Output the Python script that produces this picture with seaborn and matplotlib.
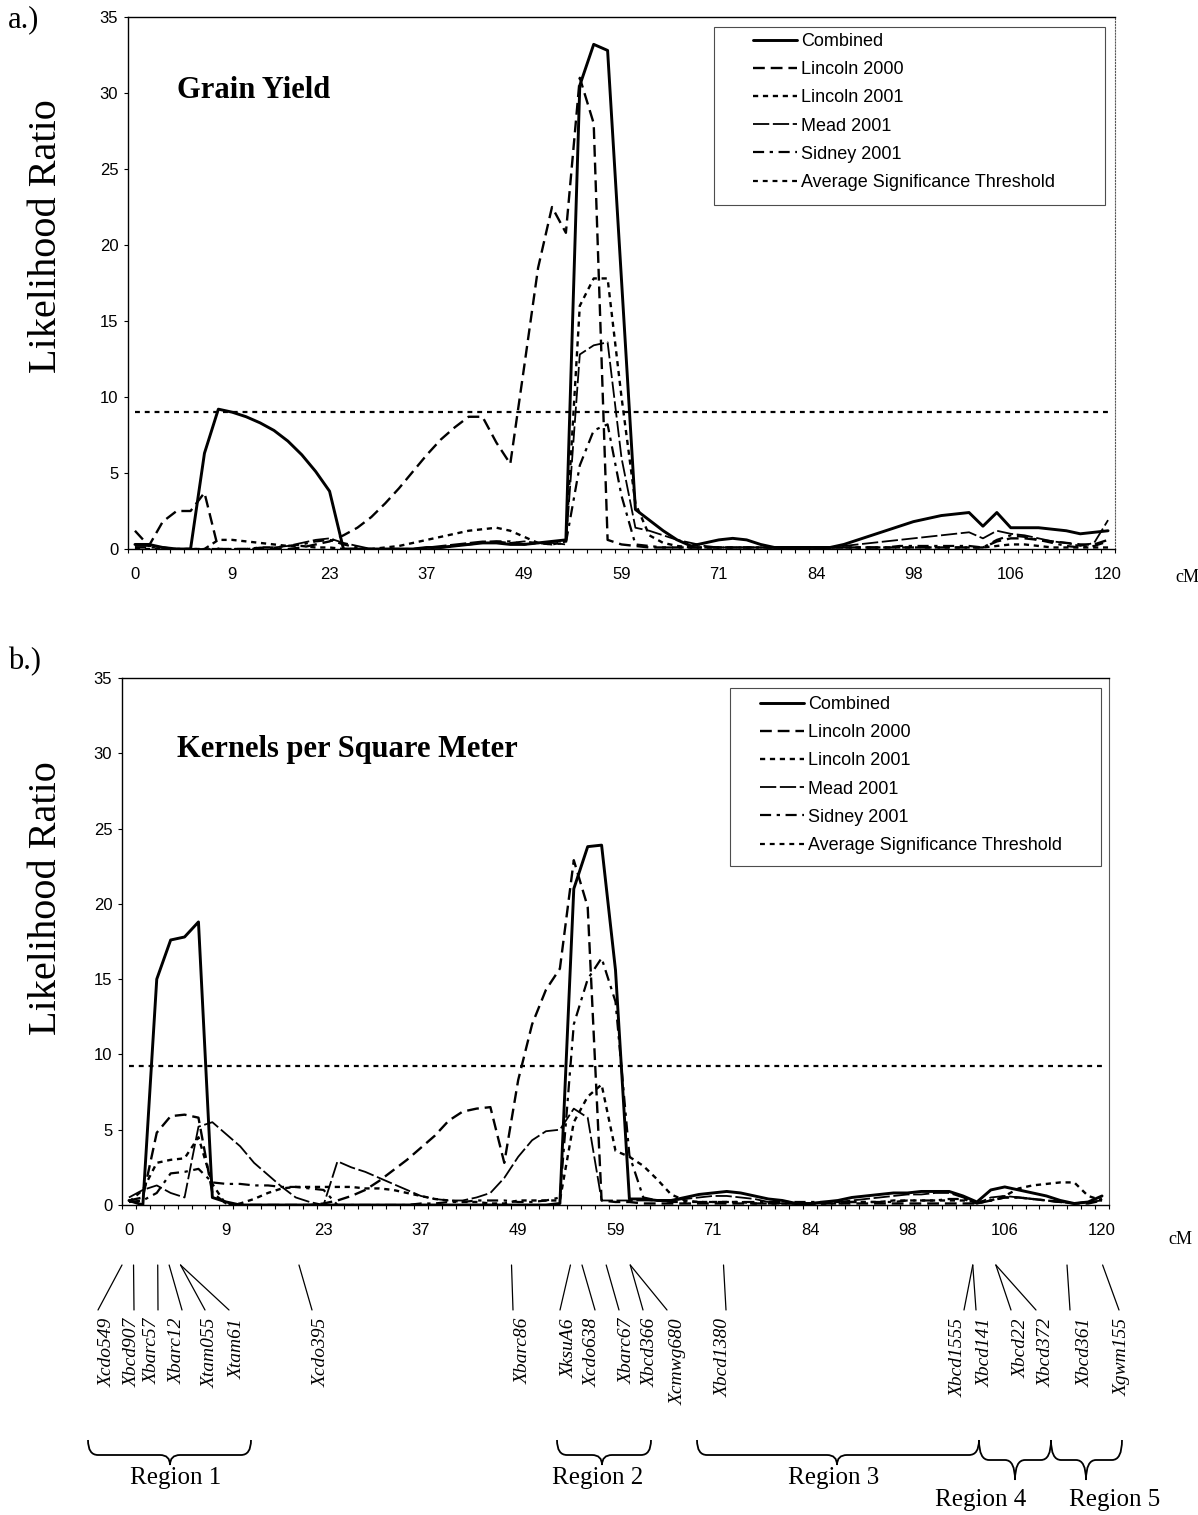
import numpy as np
import pandas as pd
import matplotlib
matplotlib.use("Agg")
import matplotlib.pyplot as plt
import seaborn as sns
from matplotlib.path import Path
from matplotlib.patches import PathPatch, Rectangle

sns.set_theme(style="ticks")
plt.rcParams['font.family'] = ['Liberation Sans', 'DejaVu Sans']
plt.rcParams['text.color'] = 'black'
plt.rcParams['axes.labelcolor'] = 'black'
plt.rcParams['xtick.color'] = 'black'
plt.rcParams['ytick.color'] = 'black'
plt.rcParams['axes.edgecolor'] = 'black'

# ---------------- data ----------------
cm_tick_labels = ["0", "9", "23", "37", "49", "59", "71", "84", "98", "106", "120"]
n_categories = 71
series_names = ["Combined", "Lincoln 2000", "Lincoln 2001", "Mead 2001", "Sidney 2001"]

a_combined = [0.3, 0.3, 0.1, 0.0, 0.0, 6.3, 9.2, 9.0, 8.7, 8.3,
              7.8, 7.1, 6.2, 5.1, 3.8, 0.0, 0.0, 0.0, 0.0, 0.0,
              0.0, 0.1, 0.1, 0.2, 0.3, 0.4, 0.4, 0.3, 0.3, 0.4,
              0.5, 0.6, 30.5, 33.2, 32.8, 17.7, 2.6, 1.9, 1.2, 0.6,
              0.2, 0.4, 0.6, 0.7, 0.6, 0.3, 0.1, 0.1, 0.1, 0.1,
              0.1, 0.3, 0.6, 0.9, 1.2, 1.5, 1.8, 2.0, 2.2, 2.3,
              2.4, 1.5, 2.4, 1.4, 1.4, 1.4, 1.3, 1.2, 1.0, 1.1,
              1.2]
a_lincoln2000 = [1.2, 0.2, 1.8, 2.5, 2.5, 3.7, 0.0, 0.0, 0.0, 0.0,
                 0.0, 0.0, 0.1, 0.3, 0.5, 0.9, 1.4, 2.1, 3.0, 4.0,
                 5.1, 6.2, 7.2, 8.0, 8.7, 8.7, 7.0, 5.6, 12.0, 18.5,
                 22.5, 20.8, 31.0, 28.0, 0.6, 0.3, 0.2, 0.1, 0.1, 0.1,
                 0.1, 0.1, 0.1, 0.1, 0.1, 0.1, 0.1, 0.1, 0.1, 0.1,
                 0.1, 0.1, 0.1, 0.1, 0.1, 0.1, 0.1, 0.1, 0.1, 0.1,
                 0.1, 0.1, 0.5, 0.7, 0.7, 0.6, 0.5, 0.4, 0.3, 0.3,
                 0.6]
a_lincoln2001 = [0.0, 0.0, 0.0, 0.0, 0.0, 0.0, 0.6, 0.6, 0.5, 0.4,
                 0.3, 0.2, 0.2, 0.1, 0.1, 0.0, 0.0, 0.0, 0.1, 0.2,
                 0.4, 0.6, 0.8, 1.0, 1.2, 1.3, 1.4, 1.2, 0.8, 0.4,
                 0.3, 0.5, 16.0, 17.8, 17.8, 10.0, 3.0, 0.9, 0.4, 0.2,
                 0.1, 0.1, 0.1, 0.1, 0.1, 0.1, 0.1, 0.1, 0.1, 0.1,
                 0.1, 0.1, 0.1, 0.1, 0.1, 0.1, 0.1, 0.1, 0.1, 0.1,
                 0.1, 0.1, 0.2, 0.3, 0.3, 0.2, 0.1, 0.1, 0.1, 0.1,
                 0.1]
a_mead2001 = [0.2, 0.2, 0.1, 0.0, 0.0, 0.0, 0.0, 0.0, 0.0, 0.1,
              0.1, 0.2, 0.4, 0.6, 0.7, 0.4, 0.2, 0.0, 0.0, 0.0,
              0.0, 0.1, 0.2, 0.3, 0.4, 0.5, 0.5, 0.4, 0.5, 0.4,
              0.4, 0.3, 12.8, 13.4, 13.6, 6.0, 1.4, 1.2, 0.9, 0.6,
              0.4, 0.2, 0.1, 0.1, 0.1, 0.1, 0.1, 0.1, 0.1, 0.1,
              0.1, 0.2, 0.3, 0.4, 0.5, 0.6, 0.7, 0.8, 0.9, 1.0,
              1.1, 0.7, 1.2, 1.0, 0.9, 0.7, 0.5, 0.4, 0.2, 0.4,
              1.9]
a_sidney2001 = [0.1, 0.1, 0.1, 0.0, 0.0, 0.0, 0.0, 0.0, 0.0, 0.1,
                0.1, 0.2, 0.3, 0.5, 0.6, 0.3, 0.1, 0.0, 0.0, 0.0,
                0.0, 0.0, 0.1, 0.2, 0.3, 0.4, 0.5, 0.5, 0.3, 0.4,
                0.3, 0.4, 5.5, 7.8, 8.2, 3.5, 0.3, 0.2, 0.1, 0.1,
                0.1, 0.1, 0.1, 0.1, 0.1, 0.1, 0.1, 0.1, 0.1, 0.1,
                0.1, 0.1, 0.1, 0.1, 0.1, 0.2, 0.2, 0.2, 0.2, 0.2,
                0.2, 0.1, 0.6, 0.9, 0.8, 0.6, 0.4, 0.2, 0.1, 0.2,
                0.5]
a_threshold = 9.0

b_combined = [0.3, 0.0, 15.0, 17.6, 17.8, 18.8, 0.5, 0.2, 0.0, 0.0,
              0.0, 0.0, 0.0, 0.0, 0.0, 0.0, 0.0, 0.0, 0.0, 0.0,
              0.0, 0.0, 0.0, 0.0, 0.0, 0.0, 0.0, 0.0, 0.0, 0.0,
              0.0, 0.1, 21.0, 23.8, 23.9, 15.6, 0.4, 0.4, 0.3, 0.3,
              0.5, 0.7, 0.8, 0.9, 0.8, 0.6, 0.4, 0.3, 0.1, 0.1,
              0.2, 0.3, 0.5, 0.6, 0.7, 0.8, 0.8, 0.9, 0.9, 0.9,
              0.6, 0.2, 1.0, 1.2, 1.0, 0.8, 0.6, 0.3, 0.1, 0.2,
              0.6]
b_lincoln2000 = [0.3, 0.5, 4.8, 5.9, 6.0, 5.8, 0.8, 0.1, 0.0, 0.0,
                 0.0, 0.0, 0.0, 0.0, 0.1, 0.3, 0.6, 1.0, 1.6, 2.3,
                 3.0, 3.8, 4.6, 5.6, 6.2, 6.4, 6.5, 2.8, 8.3, 12.0,
                 14.3, 15.7, 22.9, 19.8, 0.3, 0.2, 0.2, 0.1, 0.1, 0.1,
                 0.1, 0.1, 0.1, 0.1, 0.1, 0.1, 0.1, 0.1, 0.1, 0.1,
                 0.1, 0.1, 0.1, 0.1, 0.1, 0.1, 0.1, 0.1, 0.1, 0.1,
                 0.1, 0.1, 0.3, 0.5, 0.5, 0.4, 0.3, 0.2, 0.1, 0.1,
                 0.3]
b_lincoln2001 = [0.2, 1.0, 2.8, 3.0, 3.1, 4.5, 1.4, 0.0, 0.1, 0.4,
                 0.8, 1.1, 1.2, 1.2, 1.2, 1.2, 1.2, 1.1, 1.1, 1.0,
                 0.8, 0.6, 0.4, 0.3, 0.2, 0.2, 0.1, 0.1, 0.3, 0.3,
                 0.3, 0.3, 5.5, 7.2, 8.0, 3.6, 3.2, 2.6, 1.7, 0.7,
                 0.3, 0.2, 0.2, 0.2, 0.2, 0.1, 0.1, 0.1, 0.1, 0.1,
                 0.1, 0.1, 0.2, 0.2, 0.2, 0.3, 0.3, 0.3, 0.3, 0.3,
                 0.3, 0.2, 0.3, 0.6, 1.1, 1.3, 1.4, 1.5, 1.5, 0.6,
                 0.3]
b_mead2001 = [0.5, 1.0, 1.3, 0.8, 0.5, 5.2, 5.5, 4.7, 3.9, 2.8,
              2.0, 1.2, 0.5, 0.2, 0.0, 2.9, 2.5, 2.2, 1.8, 1.4,
              1.0, 0.6, 0.4, 0.3, 0.3, 0.5, 0.8, 1.8, 3.2, 4.3,
              4.9, 5.0, 6.4, 5.8, 0.3, 0.3, 0.3, 0.3, 0.3, 0.3,
              0.4, 0.5, 0.6, 0.6, 0.5, 0.4, 0.2, 0.1, 0.1, 0.1,
              0.1, 0.2, 0.3, 0.4, 0.5, 0.6, 0.7, 0.7, 0.8, 0.8,
              0.5, 0.1, 0.5, 0.6, 0.5, 0.4, 0.3, 0.2, 0.1, 0.2,
              0.3]
b_sidney2001 = [0.2, 0.3, 0.8, 2.1, 2.2, 2.4, 1.5, 1.4, 1.4, 1.3,
                1.3, 1.2, 1.2, 1.1, 1.0, 0.0, 0.0, 0.0, 0.0, 0.0,
                0.0, 0.1, 0.1, 0.2, 0.2, 0.3, 0.3, 0.3, 0.2, 0.2,
                0.3, 0.5, 12.0, 15.0, 16.4, 13.5, 3.3, 0.5, 0.3, 0.2,
                0.2, 0.2, 0.2, 0.2, 0.2, 0.2, 0.2, 0.2, 0.2, 0.2,
                0.2, 0.2, 0.2, 0.2, 0.2, 0.2, 0.3, 0.3, 0.3, 0.4,
                0.4, 0.1, 0.3, 0.5, 0.5, 0.4, 0.3, 0.2, 0.1, 0.2,
                0.4]
b_threshold = 9.25

# genetic map markers (position along panel b category axis)
marker_names = ["Xcdo549", "Xbcd907", "Xbarc57", "Xbarc12", "Xtam055", "Xtam61",
                "Xcdo395", "Xbarc86", "XksuA6", "Xcdo638", "Xbarc67", "Xbcd366",
                "Xcmwg680", "Xbcd1380", "Xbcd1555", "Xbcd141", "Xbcd22", "Xbcd372",
                "Xbcd361", "Xgwm155"]
marker_axis_pos = [-0.5, 0.33, 2.07, 2.89, 3.71, 3.71, 12.23, 27.52, 31.76, 32.59,
                   34.33, 36.06, 36.06, 42.77, 60.70, 60.70, 62.36, 62.36, 67.48, 70.04]
region_names = ["Region 1", "Region 2", "Region 3", "Region 4", "Region 5"]

# ---------------- layout (pixels) ----------------
W, H = 1198, 1515
marker_line_bottom_px = [98, 134, 158, 182, 205, 229, 312, 513, 560, 595,
                         619, 643, 667, 726, 964, 976, 1011, 1036, 1070, 1119]
marker_label_px = [107, 132, 152, 177, 210, 237, 321, 523, 569, 592,
                   627, 650, 678, 723, 958, 985, 1021, 1046, 1085, 1122]
brace_specs = [  # x0, x1, xtip, ytop, yline, ytip, text_x, text_y
    (88, 251, 170, 1440, 1455, 1465, 176, 1478),
    (557, 651, 602, 1440, 1455, 1465, 598, 1478),
    (697, 979, 837, 1440, 1455, 1465, 834, 1478),
    (979, 1051, 1015, 1440, 1460, 1480, 981, 1500),
    (1051, 1122, 1086, 1440, 1460, 1480, 1115, 1500),
]

styles = {
    "Combined": dict(lw=2.1, ls="-"),
    "Lincoln 2000": dict(lw=1.7, ls=(0, (5, 2.5))),
    "Lincoln 2001": dict(lw=1.7, ls=(0, (2.2, 2.0))),
    "Mead 2001": dict(lw=1.3, ls=(0, (9, 2))),
    "Sidney 2001": dict(lw=1.6, ls=(0, (5, 2.5, 1.5, 2.5))),
}
thr_style = dict(lw=1.6, ls=(0, (2.2, 2.2)))

fig = plt.figure(figsize=(W / 100, H / 100), dpi=100)


def px_axes(l, t, r, b):
    return fig.add_axes([l / W, 1 - b / H, (r - l) / W, (b - t) / H])


ax_a = px_axes(128, 17, 1115, 549)
ax_b = px_axes(122, 678, 1109, 1205)
ov = fig.add_axes([0, 0, 1, 1], zorder=-1)
ov.set_xlim(0, W)
ov.set_ylim(H, 0)
ov.axis("off")

cat_idx = np.arange(n_categories)


def draw_panel(ax, values, thresh, right_ls):
    for name in series_names:
        df = pd.DataFrame({"cat": cat_idx, "LR": values[name]})
        sns.lineplot(data=df, x="cat", y="LR", ax=ax, color="black",
                     linewidth=styles[name]["lw"], linestyle=styles[name]["ls"],
                     estimator=None, errorbar=None, label=name)
    thr = pd.DataFrame({"cat": cat_idx[[0, -1]], "LR": [thresh, thresh]})
    sns.lineplot(data=thr, x="cat", y="LR", ax=ax, color="black",
                 linewidth=thr_style["lw"], linestyle=thr_style["ls"],
                 estimator=None, errorbar=None, label="Average Significance Threshold")
    ax.set_xlim(-0.5, n_categories - 0.5)
    ax.set_ylim(0, 35)
    ax.set_yticks(range(0, 36, 5))
    ax.set_xticks(cat_idx[::7])
    ax.set_xticklabels(cm_tick_labels)
    ax.set_xticks(np.arange(-0.5, n_categories, 1), minor=True)
    ax.tick_params(axis="x", which="major", length=0, pad=13, labelsize=12, labelcolor="black")
    ax.tick_params(axis="x", which="minor", length=3, width=0.8, direction="out", bottom=True, color="black")
    ax.tick_params(axis="y", which="major", length=3, width=0.8, direction="out", pad=4, labelsize=12,
                   left=True, color="black", labelcolor="black")
    ax.tick_params(axis="y", which="minor", left=False)
    ax.set_xlabel("")
    ax.set_ylabel("")
    for s in ("left", "bottom", "top"):
        ax.spines[s].set_color("black")
        ax.spines[s].set_linewidth(1.0)
    ax.spines["right"].set_visible(True)
    ax.spines["right"].set_linewidth(0.8)
    ax.spines["right"].set_color("0.35")
    ax.spines["right"].set_linestyle(right_ls)
    ax.set_facecolor("none")
    handles, labels = ax.get_legend_handles_labels()
    return handles, labels


vals_a = dict(zip(series_names, [a_combined, a_lincoln2000, a_lincoln2001, a_mead2001, a_sidney2001]))
vals_b = dict(zip(series_names, [b_combined, b_lincoln2000, b_lincoln2001, b_mead2001, b_sidney2001]))

h_a, l_a = draw_panel(ax_a, vals_a, a_threshold, ":")
h_b, l_b = draw_panel(ax_b, vals_b, b_threshold, "-")


def place_legend(ax, handles, labels, hx, ty, box):
    leg = ax.legend(handles, labels, loc="upper left",
                    bbox_to_anchor=(hx / W, 1 - ty / H), bbox_transform=fig.transFigure,
                    frameon=False, fontsize=13, handlelength=2.45, handletextpad=0.2,
                    labelspacing=0.62, borderpad=0, borderaxespad=0)
    for t in leg.get_texts():
        t.set_color("black")
    x0, y0, w, h = box
    ov.add_patch(Rectangle((x0, y0), w, h, fill=False, lw=0.8, edgecolor="0.3"))


place_legend(ax_a, h_a, l_a, 753, 33, (714, 27, 391, 178))
place_legend(ax_b, h_b, l_b, 760, 696, (730, 688, 371, 178))

serif = ["Liberation Serif", "DejaVu Serif"]
ov.text(47, 236, "Likelihood Ratio", rotation=90, ha="center", va="center", fontsize=29, family=serif)
ov.text(47, 898, "Likelihood Ratio", rotation=90, ha="center", va="center", fontsize=29, family=serif)
ov.text(177, 90, "Grain Yield", ha="left", va="center", fontsize=22, fontweight="bold", family=serif)
ov.text(177, 750, "Kernels per Square Meter", ha="left", va="center", fontsize=22, fontweight="bold", family=serif)
ov.text(8, 20, "a.)", ha="left", va="center", fontsize=22, family=serif)
ov.text(8, 662, "b.)", ha="left", va="center", fontsize=22, family=serif)
ov.text(1187, 578, "cM", ha="center", va="center", fontsize=13, family=serif)
ov.text(1180, 1240, "cM", ha="center", va="center", fontsize=13, family=serif)

# marker connector lines and names
for name, pos, xb, xl in zip(marker_names, marker_axis_pos, marker_line_bottom_px, marker_label_px):
    disp = ax_b.transData.transform((pos, 0))
    xt = ov.transData.inverted().transform(disp)[0]
    ov.plot([xt, xb], [1265, 1310], color="black", lw=0.9)
    ov.text(xl, 1318, name, rotation=90, ha="center", va="top", fontsize=14,
            fontstyle="italic", family=serif)

# braces and region names
for (x0, x1, xm, yt, yl, ytip, tx, ty), rname in zip(brace_specs, region_names):
    r = min(10, (xm - x0) / 3)
    verts = [(x0, yt), (x0, yl), (x0 + r, yl), (xm - r, yl), (xm, yl), (xm, ytip),
             (xm, yl), (xm + r, yl), (x1 - r, yl), (x1, yl), (x1, yt)]
    codes = [Path.MOVETO, Path.CURVE3, Path.CURVE3, Path.LINETO, Path.CURVE3, Path.CURVE3,
             Path.CURVE3, Path.CURVE3, Path.LINETO, Path.CURVE3, Path.CURVE3]
    ov.add_patch(PathPatch(Path(verts, codes), fill=False, lw=1.3, edgecolor="black"))
    ov.text(tx, ty, rname, ha="center", va="center", fontsize=18, family=serif)

fig.savefig("out.png", dpi=100)
